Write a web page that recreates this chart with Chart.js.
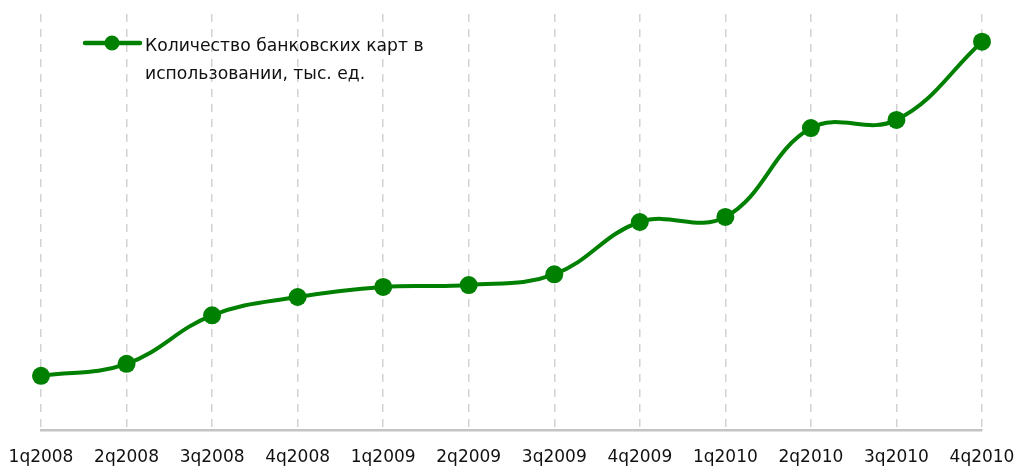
<!DOCTYPE html>
<html>
<head>
<meta charset="utf-8">
<script src="https://cdn.jsdelivr.net/npm/chart.js@4/dist/chart.umd.min.js"></script>
<style>
  html, body { margin: 0; padding: 0; background: #fff; }
  #wrap { width: 1021px; height: 468px; }
</style>
</head>
<body>
<div id="wrap"><canvas id="cards-chart" width="1021" height="468"></canvas></div>
<script>
// quarters and number of bank cards in use (thousand units)
let quarters = ['1q2008', '2q2008', '3q2008', '4q2008', '1q2009', '2q2009', '3q2009', '4q2009', '1q2010', '2q2010', '3q2010', '4q2010'];
let cards = [108600, 110500, 118200, 121100, 122700, 123000, 124700, 133000, 133800, 147900, 149200, 161600];
let legendLines = ['Количество банковских карт в', 'использовании, тыс. ед.'];

let green = '#008000';
let font = '"DejaVu Sans", sans-serif';

// legend drawn by hand, the built-in one can't wrap text
let legendPlugin = {
  id: 'twoLineLegend',
  afterDraw(chart) {
    let c = chart.ctx;
    c.save();
    c.strokeStyle = green;
    c.lineWidth = 4.5;
    c.lineCap = 'round';
    c.beginPath();
    c.moveTo(85, 43);
    c.lineTo(140, 43);
    c.stroke();
    c.fillStyle = green;
    c.beginPath();
    c.arc(112, 43, 7.5, 0, Math.PI * 2);
    c.fill();
    c.fillStyle = '#111';
    c.font = '17.2px ' + font;
    c.textBaseline = 'middle';
    c.fillText(legendLines[0], 145, 47);
    c.fillText(legendLines[1], 145, 75);
    c.restore();
  }
};

let ctx = document.getElementById('cards-chart').getContext('2d');

let chart = new Chart(ctx, {
  type: 'line',
  data: {
    labels: quarters,
    datasets: [{
      label: legendLines.join(' '),
      data: cards,
      borderColor: green,
      backgroundColor: green,
      borderWidth: 4,
      pointRadius: 9,
      pointHoverRadius: 9,
      pointBackgroundColor: green,
      pointBorderWidth: 0,
      tension: 0.4,
      fill: false
    }]
  },
  options: {
    responsive: false,
    animation: false,
    layout: { padding: { left: 41, right: 39, top: 14, bottom: 0 } },
    plugins: {
      legend: { display: false },
      tooltip: { enabled: false }
    },
    scales: {
      x: {
        offset: false,
        afterFit(scale) {
          scale.height = 38;
          scale.paddingLeft = 0;
          scale.paddingRight = 0;
        },
        grid: {
          color: '#d2d2d2',
          lineWidth: 1.5,
          drawTicks: false
        },
        border: {
          display: true,
          color: '#c4c4c4',
          width: 2.5,
          dash: [8, 7]
        },
        ticks: {
          color: '#111',
          font: { family: font, size: 17 },
          padding: 17,
          maxRotation: 0,
          autoSkip: false
        }
      },
      y: {
        display: false,
        min: 100000,
        max: 166000
      }
    }
  },
  plugins: [legendPlugin]
});
</script>
</body>
</html>
